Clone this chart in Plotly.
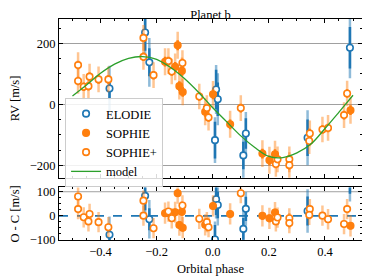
import plotly.graph_objects as go

# ---------------- data ----------------
elodie_phase = [-0.368, -0.241, -0.226, 0.008, 0.012, 0.018, 0.109, 0.118, 0.338, 0.489]
elodie_rv = [52, 236, 138, -117, 49, 17, -167, -95, -109, 186]
elodie_oc = [-78, 83, -14, -98, 69, 45, -54, 29, 20, 160]
elodie_err = [35, 60, 46, 60, 65, 55, 45, 50, 60, 68]
elodie_jit = [75, 90, 80, 75, 80, 85, 75, 70, 90, 100]

sophie_phase = [-0.170, -0.134, -0.125, -0.119, -0.110, -0.107, -0.027, 0.001, 0.062,
                0.177, 0.202, 0.222, 0.491]
sophie_rv = [140, 123, 194, 60, 110, 41, -24, 33, -65, -161, -183, -163, -19]
sophie_oc = [11, 15, 94, -38, 17, -49, -37, 41, 8, 0, -10, 14, -41]
sophie_err = [16] * 13
sophie_jit = [44] * 13

sp_phase = [-0.480, -0.480, -0.460, -0.443, -0.439, -0.407, -0.372, -0.247, -0.247, -0.211,
            -0.158, -0.146, -0.108, -0.048, -0.021, -0.015, 0.100, 0.225, 0.231, 0.273,
            0.273, 0.346, 0.344, 0.391, 0.411, 0.468, 0.479]
sp_rv = [129, 77, 58, 60, 91, 82, 82, 218, 156, 96, 142, 108, 136, 26, -12, -43, -12,
         -195, -180, -180, -199, -95, -120, -82, -77, -35, 36]
sp_oc = [80, 28, -6, -23, 8, -26, -47, 63, 1, -51, 18, -10, 43, -12, -26, -47, 94,
         -23, -7, -10, -30, 28, 4, 1, -14, -34, 28]
sp_err = [14] * 27
sp_jit = [42] * 27

model_phase = [-0.50, -0.45, -0.40, -0.35, -0.30, -0.25, -0.20, -0.15, -0.10, -0.05, 0.00,
               0.05, 0.10, 0.15, 0.20, 0.25, 0.30, 0.35, 0.40, 0.45, 0.50]
model_rv = [28, 64, 102, 132, 151, 157, 148, 121, 84, 39, -11, -57, -103, -141, -170,
            -174, -159, -130, -79, -25, 30]

x_ticks = [-0.4, -0.2, 0.0, 0.2, 0.4]
x_tick_labels = ["\u22120.4", "\u22120.2", "0.0", "0.2", "0.4"]

BLUE = "#1f77b4"
ORANGE = "#ff7f0e"
GREEN = "#2ca02c"
GRID = "#a0a0a0"
FONT = "Liberation Serif, DejaVu Serif, serif"
FS = 12.5

fig = go.Figure()


def add_set(name, ph, rv, oc, err, jit, color, light, filled):
    for (yv, xa, ya, leg) in [(rv, "x", "y", True), (oc, "x2", "y2", False)]:
        fig.add_trace(go.Scatter(
            x=ph, y=yv, xaxis=xa, yaxis=ya, mode="markers", showlegend=False,
            marker=dict(size=1, color="rgba(0,0,0,0)"),
            error_y=dict(type="data", array=jit, color=light, thickness=2.5, width=0),
            hoverinfo="skip"))
        fig.add_trace(go.Scatter(
            x=ph, y=yv, xaxis=xa, yaxis=ya, mode="markers", name=name,
            showlegend=leg, legendgroup=name,
            marker=dict(size=6.5, color=color if filled else "white",
                        line=dict(color=color, width=1.6)),
            error_y=dict(type="data", array=err, color=color, thickness=2.5, width=0)))


add_set("ELODIE", elodie_phase, elodie_rv, elodie_oc, elodie_err, elodie_jit,
        BLUE, "rgba(31,119,180,0.5)", False)
add_set("SOPHIE", sophie_phase, sophie_rv, sophie_oc, sophie_err, sophie_jit,
        ORANGE, "rgba(255,127,14,0.45)", True)
add_set("SOPHIE+", sp_phase, sp_rv, sp_oc, sp_err, sp_jit,
        ORANGE, "rgba(255,127,14,0.45)", False)

fig.add_trace(go.Scatter(x=model_phase, y=model_rv, xaxis="x", yaxis="y", mode="lines",
                         name="model", line=dict(color=GREEN, width=1.3, shape="spline")))

# residual panel: grid line at +100 and dashed zero reference, under the points
fig.add_shape(type="line", xref="x2 domain", yref="y2", x0=0, x1=1, y0=100, y1=100,
              line=dict(color=GRID, width=1), layer="below")
fig.add_shape(type="line", xref="x2 domain", yref="y2", x0=0, x1=1, y0=0, y1=0,
              line=dict(color=BLUE, width=1.8, dash="dash"), layer="below")

axis_common = dict(showline=True, linecolor="black", linewidth=1.1, mirror="allticks",
                   ticks="inside", ticklen=4, tickwidth=0.9, tickcolor="black",
                   zeroline=False, automargin=False,
                   tickfont=dict(family=FONT, size=FS, color="black"))

# the page body offsets the figure by 8 px, so the figure is 8 px smaller
fig.update_layout(
    width=362, height=269,
    margin=dict(l=51, r=8, t=11, b=37),
    paper_bgcolor="white", plot_bgcolor="rgba(0,0,0,0)",
    font=dict(family=FONT, size=FS, color="black"),
    title=dict(text="Planet b", x=0.5, xref="paper", y=0.99, yref="container",
               yanchor="top", pad=dict(t=0, b=0),
               font=dict(family=FONT, size=FS, color="black")),
    showlegend=True,
    legend=dict(x=0.02, y=0.6425, xanchor="left", yanchor="top",
                bgcolor="rgba(255,255,255,0.85)", bordercolor="#cccccc", borderwidth=1,
                font=dict(family=FONT, size=FS, color="black"), tracegroupgap=0),
    xaxis=dict(domain=[0, 1], anchor="y", range=[-0.548, 0.532], tickvals=x_ticks,
               showticklabels=False, showgrid=False,
               minor=dict(ticks="inside", ticklen=2, dtick=0.05, tick0=0, tickcolor="black",
                          showgrid=False),
               **axis_common),
    yaxis=dict(domain=[0.282, 1], anchor="x", range=[-240, 280], tick0=0, dtick=200,
               showgrid=True, gridcolor=GRID, gridwidth=1,
               minor=dict(ticks="inside", ticklen=2, dtick=50, tick0=0, tickcolor="black",
                          showgrid=False),
               **axis_common),
    xaxis2=dict(domain=[0, 1], anchor="y2", range=[-0.548, 0.532], tickvals=x_ticks,
                ticktext=x_tick_labels, showgrid=False,
                title=dict(text="Orbital phase", standoff=6, font=dict(family=FONT, size=FS)),
                minor=dict(ticks="inside", ticklen=2, dtick=0.05, tick0=0, tickcolor="black",
                           showgrid=False),
                **axis_common),
    yaxis2=dict(domain=[0, 0.238], anchor="x2", range=[-100, 118], tick0=0, dtick=100,
                showgrid=False,
                minor=dict(ticks="inside", ticklen=2, dtick=25, tick0=0, tickcolor="black",
                           showgrid=False),
                **axis_common),
    annotations=[
        dict(text="RV [m/s]", xref="paper", yref="paper", x=-0.1455, y=0.641,
             textangle=-90, showarrow=False, xanchor="center", yanchor="middle",
             font=dict(family=FONT, size=FS, color="black")),
        dict(text="O - C [m/s]", xref="paper", yref="paper", x=-0.1455, y=0.119,
             textangle=-90, showarrow=False, xanchor="center", yanchor="middle",
             font=dict(family=FONT, size=FS, color="black")),
    ],
)

fig.write_html("out.html")
